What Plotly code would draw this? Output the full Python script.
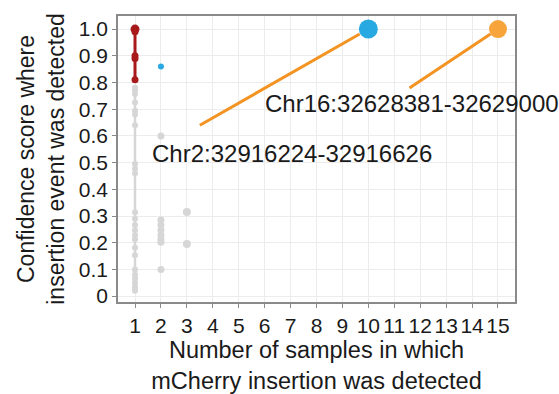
import plotly.graph_objects as go

# Data
gray1_y = [0.02, 0.03, 0.034, 0.05, 0.066, 0.08, 0.1, 0.153, 0.181, 0.213, 0.228, 0.247, 0.266, 0.29, 0.314,
           0.46, 0.477, 0.495, 0.64, 0.68, 0.694, 0.725, 0.757, 0.77, 0.78]
gray2_y = [0.1, 0.202, 0.213, 0.228, 0.247, 0.266, 0.285, 0.6]
gray3_y = [0.195, 0.315]
red1_y = [0.81, 0.89, 0.9, 0.99, 1.0]
blue2_y = [0.86]
chr2_point = (10, 1.0)
chr16_point = (15, 1.0)
chr2_label = "Chr2:32916224-32916626"
chr16_label = "Chr16:32628381-32629000"

x_ticks = list(range(1, 16))
y_ticks = [0, 0.1, 0.2, 0.3, 0.4, 0.5, 0.6, 0.7, 0.8, 0.9, 1.0]
y_ticktext = ["0", "0.1", "0.2", "0.3", "0.4", "0.5", "0.6", "0.7", "0.8", "0.9", "1.0"]

GRAY = "#d6d6d6"
RED = "#a8191c"
BLUE = "#29a9e1"
ORANGE = "#f7a53b"
LINE_OR = "#f39322"
FONT = "Liberation Sans, Arial, sans-serif"

fig = go.Figure()
fig.add_trace(go.Scatter(x=[1] * len(gray1_y), y=gray1_y, mode="lines+markers",
                         line=dict(color=GRAY, width=2.5), marker=dict(color=GRAY, size=6)))
fig.add_trace(go.Scatter(x=[2] * len(gray2_y), y=gray2_y, mode="markers",
                         marker=dict(color=GRAY, size=7)))
fig.add_trace(go.Scatter(x=[3] * len(gray3_y), y=gray3_y, mode="markers",
                         marker=dict(color=GRAY, size=8)))
fig.add_trace(go.Scatter(x=[1] * len(red1_y), y=red1_y, mode="lines+markers",
                         line=dict(color=RED, width=3), marker=dict(color=RED, size=7)))
fig.add_trace(go.Scatter(x=[1], y=[1.0], mode="markers", marker=dict(color=RED, size=9)))
fig.add_trace(go.Scatter(x=[2] * len(blue2_y), y=blue2_y, mode="markers",
                         marker=dict(color=BLUE, size=6)))
fig.add_trace(go.Scatter(x=[chr2_point[0]], y=[chr2_point[1]], mode="markers",
                         marker=dict(color=BLUE, size=19)))
fig.add_trace(go.Scatter(x=[chr16_point[0]], y=[chr16_point[1]], mode="markers",
                         marker=dict(color=ORANGE, size=18)))

annotations = [
    dict(x=chr2_point[0], y=chr2_point[1], xref="x", yref="y", text="", showarrow=True,
         arrowhead=0, arrowwidth=3, arrowcolor=LINE_OR, ax=-170, ay=97, standoff=10),
    dict(x=chr16_point[0], y=chr16_point[1], xref="x", yref="y", text="", showarrow=True,
         arrowhead=0, arrowwidth=3, arrowcolor=LINE_OR, ax=-90, ay=60, standoff=9),
    dict(x=1.58, y=0.535, xref="x", yref="y", text=chr2_label, showarrow=False,
         xanchor="left", yanchor="middle", font=dict(size=24, color="#1a1a1a", family=FONT)),
    dict(x=5.94, y=0.72, xref="x", yref="y", text=chr16_label, showarrow=False,
         xanchor="left", yanchor="middle", font=dict(size=24, color="#1a1a1a", family=FONT)),
]

fig.update_layout(
    width=559, height=394,
    margin=dict(l=118, r=44, t=16, b=92),
    paper_bgcolor="white", plot_bgcolor="white",
    showlegend=False,
    font=dict(family=FONT, color="#1a1a1a", size=20),
    annotations=annotations,
    xaxis=dict(range=[0.344, 15.656], tickvals=x_ticks, ticktext=[str(v) for v in x_ticks],
               tickangle=0, showgrid=True, gridcolor="#ececec", gridwidth=1,
               showline=True, linecolor="#8a8a8a", linewidth=1.5, mirror=True,
               ticks="outside", ticklen=4, tickcolor="#8a8a8a", zeroline=False,
               tickfont=dict(size=21), automargin=False,
               title=dict(text="Number of samples in which<br>mCherry insertion was detected",
                          font=dict(size=23.5), standoff=6)),
    yaxis=dict(range=[-0.022, 1.049], tickvals=y_ticks, ticktext=y_ticktext,
               showgrid=True, gridcolor="#ececec", gridwidth=1,
               showline=True, linecolor="#8a8a8a", linewidth=1.5, mirror=True,
               ticks="outside", ticklen=4, tickcolor="#8a8a8a", zeroline=False,
               tickfont=dict(size=21), automargin=False,
               title=dict(text="Confidence score where<br>insertion event was detected",
                          font=dict(size=23), standoff=8)),
)

fig.write_html("out.html", config={"displayModeBar": False},
               post_script="document.body.style.margin='0';document.body.style.padding='0';")
